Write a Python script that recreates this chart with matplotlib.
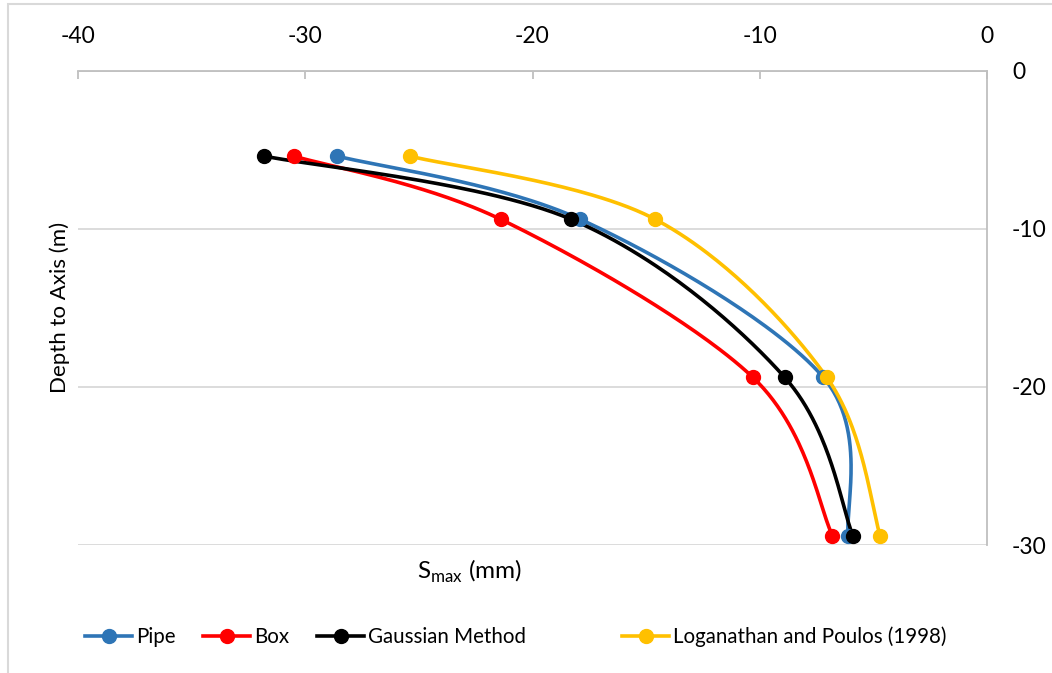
import numpy as np
import matplotlib
matplotlib.use("Agg")
import matplotlib.pyplot as plt
from matplotlib.lines import Line2D
from matplotlib.patches import Rectangle

# Maximum settlement (mm) against tunnel axis depth (m)
depth = [-5.4, -9.4, -19.4, -29.4]
pipe = [-28.6, -17.9, -7.2, -6.1]
box = [-30.5, -21.4, -10.3, -6.8]
gaussian = [-31.8, -18.3, -8.9, -5.9]
loganathan = [-25.4, -14.6, -7.05, -4.7]

series_names = ["Pipe", "Box", "Gaussian Method", "Loganathan and Poulos (1998)"]
series_colors = ["#2E75B6", "#FF0000", "#000000", "#FFC000"]

x_ticks = [-40, -30, -20, -10, 0]
y_ticks = [-30, -20, -10, 0]

plt.rcParams["font.family"] = ["Lato", "DejaVu Sans"]
plt.rcParams["mathtext.fontset"] = "custom"
plt.rcParams["mathtext.rm"] = "Lato"
plt.rcParams["axes.unicode_minus"] = False


def smooth(xs, ys, n=60):
    """Bezier smoothing through the points (Catmull-Rom style control points)."""
    pts = np.column_stack([xs, ys]).astype(float)
    P = np.vstack([pts[0], pts, pts[-1]])
    t = np.linspace(0, 1, n)[:, None]
    out = []
    for i in range(1, len(P) - 2):
        p0, p1, p2, p3 = P[i - 1], P[i], P[i + 1], P[i + 2]
        c1 = p1 + (p2 - p0) / 6.0
        c2 = p2 - (p3 - p1) / 6.0
        seg = ((1 - t) ** 3) * p1 + 3 * ((1 - t) ** 2) * t * c1 \
            + 3 * (1 - t) * t ** 2 * c2 + t ** 3 * p2
        out.append(seg if i == 1 else seg[1:])
    s = np.vstack(out)
    return s[:, 0], s[:, 1]


W, H = 1052, 673
fig = plt.figure(figsize=(W / 100, H / 100), dpi=100)
fig.patch.set_facecolor("white")

# outer chart frame
fig.patches.append(Rectangle((7.5 / W, -0.1), 1.2, 1.1 - 4.5 / H,
                             transform=fig.transFigure, fill=False,
                             edgecolor="#D9D9D9", linewidth=1.5))

left, right, top, bottom = 78, 987, 70.7, 545
ax = fig.add_axes([left / W, 1 - bottom / H, (right - left) / W, (bottom - top) / H])

ax.set_xlim(-40, 0)
ax.set_ylim(-30, 0)
ax.set_xticks(x_ticks)
ax.set_yticks(y_ticks)
ax.set_xticklabels([str(v) for v in x_ticks])
ax.set_yticklabels([str(v) for v in y_ticks])

ax.xaxis.tick_top()
ax.yaxis.tick_right()
ax.tick_params(axis="x", direction="in", length=6, width=1.3, color="#BFBFBF",
               labelsize=16.5, pad=17, labelcolor="black")
ax.tick_params(axis="y", length=0, labelsize=16.5, pad=18, labelcolor="black")

for side in ["left", "bottom"]:
    ax.spines[side].set_visible(False)
for side in ["top", "right"]:
    ax.spines[side].set_color("#BFBFBF")
    ax.spines[side].set_linewidth(1.3)

ax.grid(axis="y", color="#D9D9D9", linewidth=1.3)
ax.set_axisbelow(True)

all_series = [pipe, box, gaussian, loganathan]
for vals, name, col in zip(all_series, series_names, series_colors):
    sx, sy = smooth(vals, depth)
    ax.plot(sx, sy, color=col, linewidth=2.6, solid_capstyle="round", zorder=3)
    ax.plot(vals, depth, linestyle="none", marker="o", markersize=10,
            color=col, zorder=4, clip_on=False)

fig.text(417 / W, 1 - 579 / H, r"S$_{\mathrm{max}}$ (mm)", fontsize=17.5,
         ha="left", va="baseline")
fig.text(59.5 / W, 1 - 307 / H, "Depth to Axis (m)", fontsize=16,
         rotation=90, ha="center", va="center")

# legend entries laid out along the bottom
legend_x = [85, 203, 317, 622]
for xpos, name, col in zip(legend_x, series_names, series_colors):
    h = Line2D([], [], color=col, linewidth=2.6, marker="o", markersize=10)
    fig.legend([h], [name], loc="center left",
               bbox_to_anchor=(xpos / W, 1 - 637 / H),
               frameon=False, fontsize=14.8, borderpad=0, borderaxespad=0,
               handlelength=2.3, handletextpad=0.2)

fig.savefig("out.png", dpi=100, facecolor="white")
